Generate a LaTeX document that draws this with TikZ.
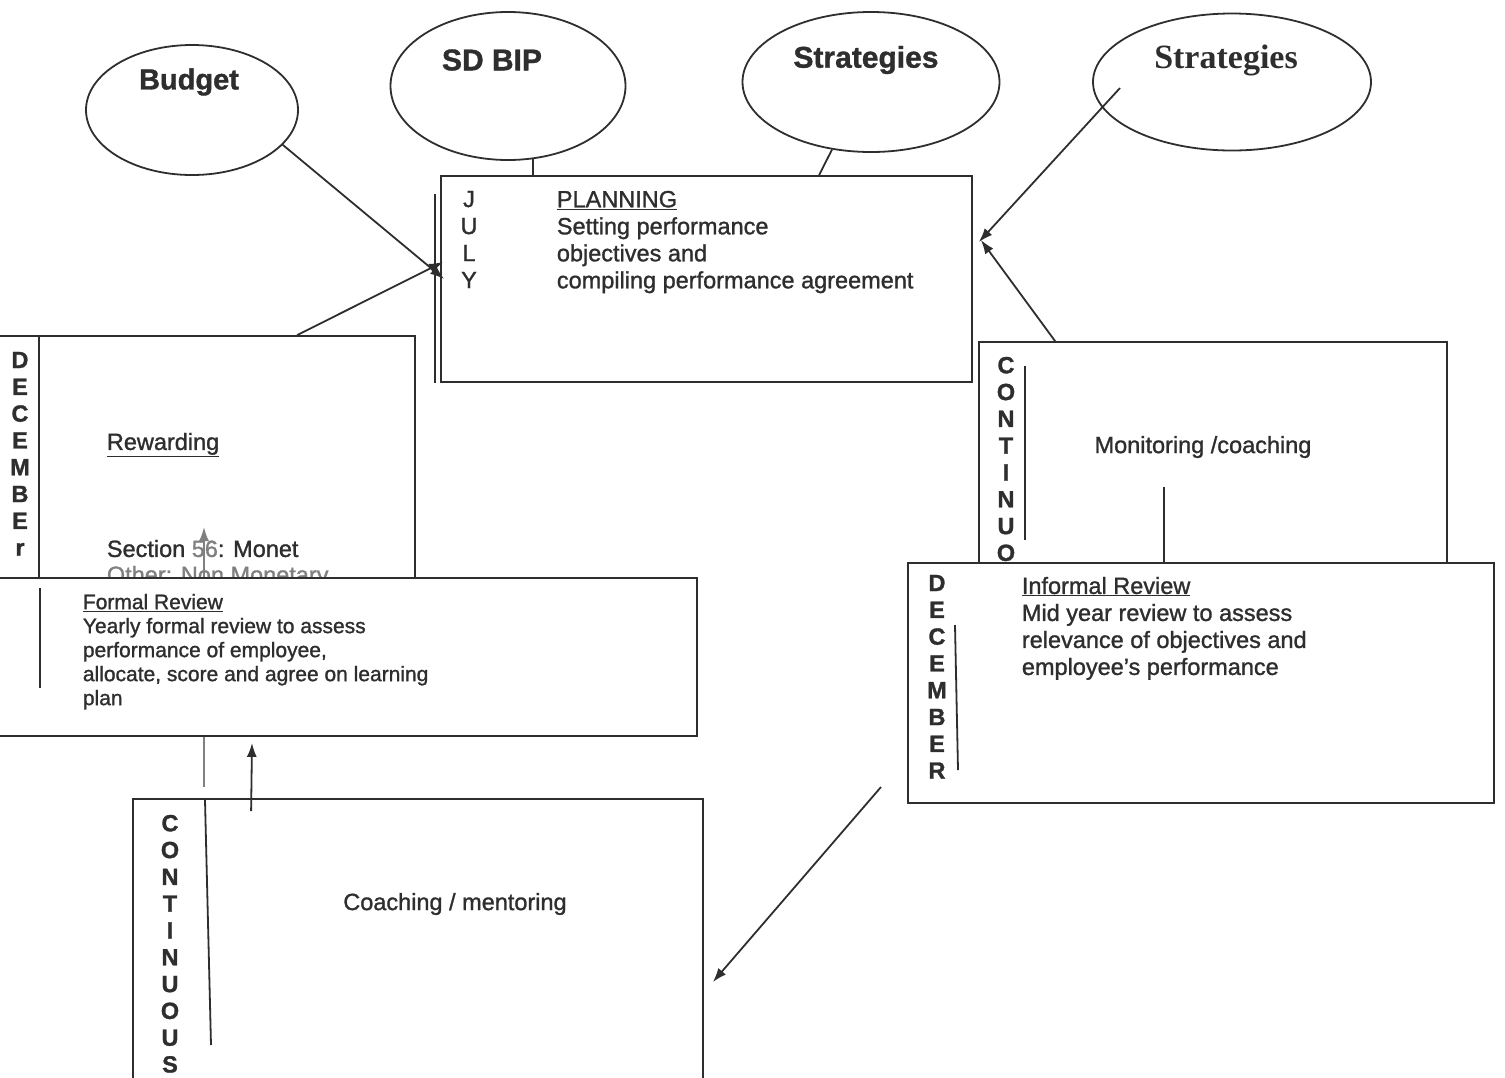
\documentclass[tikz,border=0pt]{standalone}
\usepackage{fontspec}
\setmainfont{Liberation Sans}[RawFeature={embolden=1.2}]
\newfontfamily\timesfont{Liberation Serif}
\usetikzlibrary{shapes.geometric, arrows.meta}
\definecolor{ink}{HTML}{2E2E2E}

\begin{document}
\begin{tikzpicture}[x=1pt, y=-1pt, line width=1.8pt, draw=ink, text=ink,
  box/.style={draw=ink, rectangle, fill=white, inner sep=0},
  oval/.style={draw=ink, ellipse, inner sep=0},
  head/.style={font=\bfseries\fontsize{30}{34}\selectfont, inner sep=0},
  txt/.style={font=\fontsize{23.5}{27}\selectfont, inner sep=0, align=left, anchor=north west},
  letters/.style={font=\bfseries\fontsize{23.5}{26.8}\selectfont, inner sep=0, align=center, anchor=north},
  arr/.style={-{Latex[length=14pt, width=10pt]}}]
\useasboundingbox (0,0) rectangle (1505,1077);

\node[oval, minimum width=212, minimum height=130] (budget) at (192,110) {};
\node[head, font=\bfseries\fontsize{29}{34}\selectfont] (budgettxt) at (189,82) {Budget};
\node[oval, minimum width=235, minimum height=148] (sdbip) at (508,86) {};
\node[head] (sdbiptxt) at (492,60) {SD BIP};
\node[oval, minimum width=257, minimum height=140] (strat) at (871,82) {};
\node[head] (strattxt) at (866,60) {Strategies};
\node[oval, minimum width=278, minimum height=137] (strattwo) at (1232,82) {};
\node[head, font=\timesfont\bfseries\fontsize{34}{40}\selectfont] (strattwotxt) at (1226,60) {Strategies};

\node[box, minimum width=531, minimum height=206] (planning) at (706.5,279) {};
\draw ([xshift=-5pt, yshift=-19pt]planning.north west) -- ([xshift=-5pt]planning.south west);
\node[letters, font=\fontsize{23.5}{27}\selectfont] (july) at (469,190) {J\\U\\L\\Y};
\node[txt] (plantxt) at (556,190) {\underline{PLANNING}\\Setting performance\\objectives and\\compiling performance agreement};

\node[box, minimum width=435, minimum height=242] (reward) at (197.5,457) {};
\draw ([xshift=60pt]reward.north west) -- ([xshift=60pt]reward.south west);
\node[letters] (decleft) at (20,351) {D\\E\\C\\E\\M\\B\\E\\r};
\node[txt] (rewardtxt) at (106,432) {\underline{Rewarding}};
\node[txt] (sectiontxt) at (106,539) {Section \textcolor{gray}{56}: Monet};
\node[txt, text=gray] (othertxt) at (106,565) {Other: Non Monetary};

\node[box, minimum width=570, minimum height=301] (coach) at (418,949.5) {};
\coordinate (throughlow) at (204,787);
\coordinate (throughtip) at (204,527);
\draw[arr, draw=gray] (throughlow) -- (throughtip);

\node[box, minimum width=717, minimum height=158] (formal) at (338.5,657) {};
\coordinate (formalbar) at (40,588);
\draw[line width=2.4pt] (formalbar) -- ++(0,100);
\node[txt, font=\fontsize{21}{24}\selectfont] (formaltxt) at (82,593) {\underline{Formal Review}\\Yearly formal review to assess\\performance of employee,\\allocate, score and agree on learning\\plan};

\coordinate (coachbar) at (205,800);
\draw (coachbar) -- (211,1045);
\node[letters] (contleft) at (170,814) {C\\O\\N\\T\\I\\N\\U\\O\\U\\S};
\node[font=\fontsize{23.5}{27}\selectfont, inner sep=0] (coachtxt) at (455,904) {Coaching / mentoring};
\draw[arr] ([xshift=119pt, yshift=-13pt]coach.north west) -- ([xshift=-86.5pt, yshift=-6pt]formal.south);

\node[box, minimum width=468, minimum height=223] (monitor) at (1213,453.5) {};
\node[letters] (contright) at (1006,356) {C\\O\\N\\T\\I\\N\\U\\O};
\coordinate (monitorbar) at (1025,366);
\draw (monitorbar) -- ++(0,174);
\node[font=\fontsize{23.5}{27}\selectfont, inner sep=0] (monitortxt) at (1203,447) {Monitoring /coaching};

\node[box, minimum width=586, minimum height=240] (informal) at (1201,683) {};
\coordinate (monitorstem) at (1164,487);
\draw (monitorstem) -- (monitorstem |- informal.north);
\node[letters] (decright) at (937,574) {D\\E\\C\\E\\M\\B\\E\\R};
\coordinate (informalbar) at (955,625);
\draw (informalbar) -- (958,770);
\node[txt] (informaltxt) at (1021,576) {\underline{Informal Review}\\Mid year review to assess\\relevance of objectives and\\employee's performance};

\draw (sdbip.-71) -- (sdbip.-71 |- planning.north);
\draw (strat.-120) -- ([xshift=379pt]planning.north west);
\draw[arr] (budget.-21) -- ([xshift=4pt]planning.west);
\draw[arr] ([xshift=318pt]reward.north west) -- ([xshift=3pt, yshift=17pt]planning.west);
\coordinate (strattwostart) at (1120,88);
\draw[arr] (strattwostart) -- ([xshift=6pt, yshift=37pt]planning.east);
\draw[arr] ([xshift=77pt]monitor.north west) -- ([xshift=8pt, yshift=39pt]planning.east);
\coordinate (informalstart) at (881,787);
\draw[arr] (informalstart) -- ([xshift=9pt, yshift=-32.5pt]coach.east);
\end{tikzpicture}
\end{document}
